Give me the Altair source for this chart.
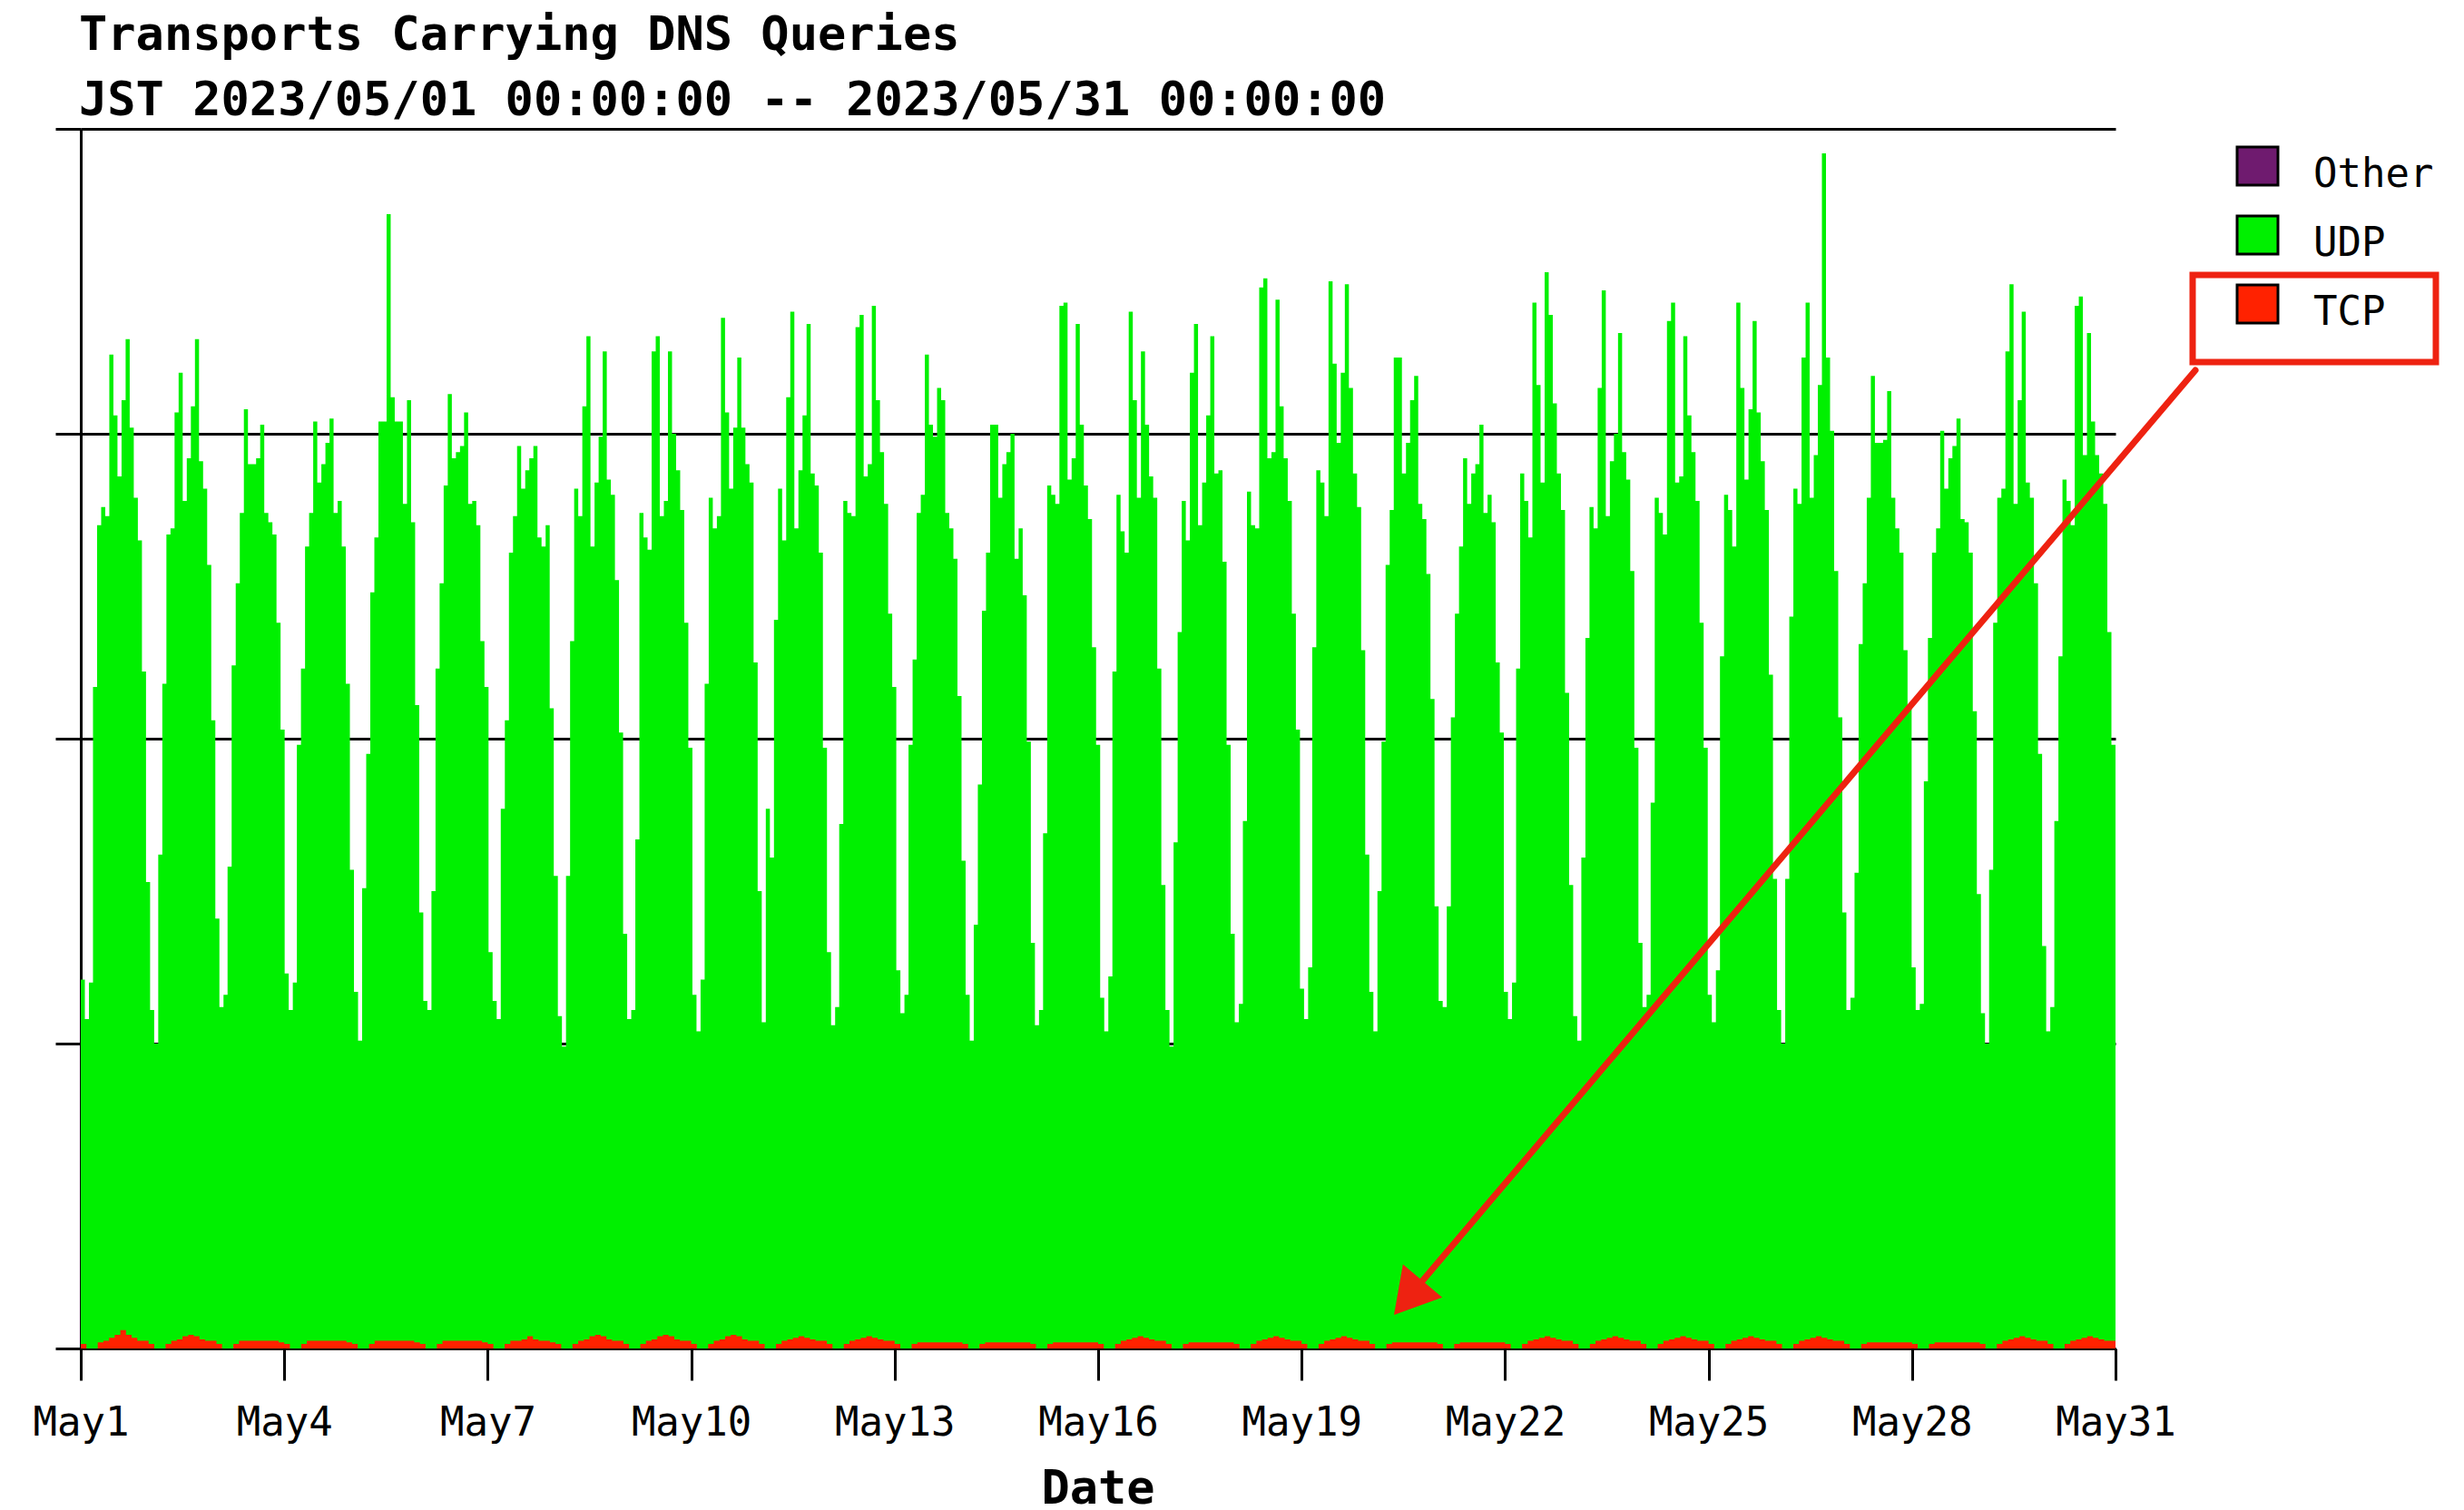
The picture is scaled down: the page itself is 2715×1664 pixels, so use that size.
import altair as alt
import pandas as pd

# ---------------------------------------------------------------------------
# Data.  Heights are in 1/100 of a grid step
# (the four grid steps of the y axis are 0..400).  Each value is one
# plotted column of the original chart (about 1.4 h wide), left to right.
# These are the heights of the top of the green (UDP) stack.
# ---------------------------------------------------------------------------
top_may01_06 = [121, 108, 120, 217, 270, 276, 273, 326, 306, 286, 311, 331, 302, 279, 265, 222,
                153, 111, 100, 162, 218, 267, 269, 307, 320, 278, 292, 309, 331, 291, 282, 257,
                206, 141, 112, 116, 158, 224, 251, 274, 308, 290, 290, 292, 303, 274, 271, 267,
                238, 203, 123, 111, 120, 198, 223, 263, 274, 304, 284, 290, 297, 305, 274, 278,
                263, 218, 157, 117, 101, 151, 195, 248, 266, 304, 304, 372, 312, 304, 304, 277,
                311, 271, 211]
top_may06_11 = [143, 114, 111, 150, 223, 251, 283, 313, 292, 294, 296, 307, 277, 278, 270, 232,
                217, 130, 114, 108, 177, 206, 261, 273, 296, 282, 288, 292, 296, 266, 263, 270,
                210, 155, 109, 99, 155, 232, 282, 273, 309, 332, 263, 284, 299, 327, 285, 280,
                252, 202, 136, 108, 111, 167, 274, 266, 262, 327, 332, 273, 278, 327, 300, 288,
                275, 238, 197, 116, 104, 121, 218, 279, 269, 273, 338, 307, 282, 302, 325, 302,
                290, 284, 225]
top_may11_16 = [150, 107, 177, 161, 239, 282, 265, 312, 340, 269, 288, 306, 336, 287, 283, 261,
                197, 130, 106, 112, 172, 278, 274, 273, 335, 339, 286, 290, 342, 311, 294, 277,
                241, 217, 124, 110, 116, 198, 226, 274, 280, 326, 303, 299, 315, 311, 274, 269,
                259, 214, 160, 116, 101, 139, 185, 242, 261, 303, 303, 279, 290, 294, 300, 259,
                269, 247, 199, 133, 106, 111, 169, 283, 280, 277, 342, 343, 285, 292, 336, 303,
                283, 272, 230, 198]
top_may16_21 = [115, 104, 122, 222, 280, 268, 261, 340, 311, 279, 327, 303, 286, 279, 223, 152,
                111, 99, 166, 235, 278, 265, 320, 336, 270, 284, 306, 332, 287, 288, 258, 198,
                136, 107, 113, 173, 281, 270, 269, 348, 351, 292, 294, 344, 309, 292, 278, 241,
                203, 118, 108, 125, 230, 288, 284, 273, 350, 323, 297, 320, 349, 315, 287, 276,
                229, 162, 117, 104, 150, 199, 257, 275, 325, 325, 287, 297, 311, 319, 277, 272,
                254, 213]
top_may21_26 = [145, 114, 112, 145, 207, 241, 263, 292, 277, 287, 290, 303, 274, 280, 271, 225,
                202, 117, 108, 120, 223, 287, 278, 266, 343, 316, 284, 353, 339, 310, 287, 275,
                215, 152, 109, 101, 161, 233, 276, 269, 315, 347, 273, 291, 300, 333, 294, 285,
                255, 197, 133, 112, 116, 179, 279, 274, 267, 337, 343, 284, 286, 332, 306, 294,
                278, 238, 197, 116, 107, 124, 227, 280, 275, 263, 343, 315, 285, 308, 337, 307,
                291, 275, 221]
top_may26_31 = [154, 111, 100, 154, 240, 282, 277, 325, 343, 279, 293, 316, 392, 325, 301, 255,
                207, 143, 111, 115, 156, 231, 251, 279, 319, 297, 297, 298, 314, 279, 269, 261,
                229, 210, 125, 111, 113, 186, 233, 261, 269, 301, 282, 292, 296, 305, 272, 271,
                261, 209, 149, 110, 100, 157, 238, 279, 282, 327, 349, 277, 311, 340, 284, 279,
                251, 195, 132, 104, 112, 173, 227, 285, 278, 270, 342, 345, 293, 333, 304, 293,
                287, 277, 235, 198]

# TCP: one list per day, 12 two-hour bins (same units)
tcp_days = [
    [1.5, 0, 0, 2.0, 2.5, 3.5, 4.5, 6.0, 4.5, 3.5, 2.5, 2.5],   # May 1
    [1.5, 0, 0, 1.5, 2.5, 3.0, 4.0, 4.5, 4.0, 3.0, 2.5, 2.5],
    [1.5, 0, 0, 1.5, 2.5, 2.5, 2.5, 2.5, 2.5, 2.5, 2.5, 2.0],
    [1.5, 0, 0, 1.5, 2.5, 2.5, 2.5, 2.5, 2.5, 2.5, 2.5, 2.0],
    [1.5, 0, 0, 1.5, 2.5, 2.5, 2.5, 2.5, 2.5, 2.5, 2.5, 2.0],
    [1.5, 0, 0, 1.5, 2.5, 2.5, 2.5, 2.5, 2.5, 2.5, 2.5, 2.0],
    [1.5, 0, 0, 1.5, 2.5, 2.5, 3.0, 4.0, 3.0, 2.5, 2.5, 2.0],
    [1.5, 0, 0, 1.5, 2.5, 3.0, 4.0, 4.5, 4.0, 3.0, 2.5, 2.5],
    [1.5, 0, 0, 1.5, 2.5, 3.0, 4.0, 4.5, 4.0, 3.0, 2.5, 2.5],
    [1.5, 0, 0, 1.5, 2.5, 3.0, 4.0, 4.5, 4.0, 3.0, 2.5, 2.5],   # May 10
    [1.5, 0, 0, 1.5, 2.5, 3.0, 3.5, 4.0, 3.5, 3.0, 2.5, 2.5],
    [1.5, 0, 0, 1.5, 2.5, 3.0, 3.5, 4.0, 3.5, 3.0, 2.5, 2.5],
    [1.5, 0, 0, 1.5, 2.0, 2.0, 2.0, 2.0, 2.0, 2.0, 2.0, 2.0],
    [1.5, 0, 0, 1.5, 2.0, 2.0, 2.0, 2.0, 2.0, 2.0, 2.0, 2.0],
    [1.5, 0, 0, 1.5, 2.0, 2.0, 2.0, 2.0, 2.0, 2.0, 2.0, 2.0],
    [1.5, 0, 0, 1.5, 2.5, 3.0, 3.5, 4.0, 3.5, 3.0, 2.5, 2.5],
    [1.5, 0, 0, 1.5, 2.0, 2.0, 2.0, 2.0, 2.0, 2.0, 2.0, 2.0],
    [1.5, 0, 0, 1.5, 2.5, 3.0, 3.5, 4.0, 3.5, 3.0, 2.5, 2.5],
    [1.5, 0, 0, 1.5, 2.5, 3.0, 3.5, 4.0, 3.5, 3.0, 2.5, 2.5],
    [1.5, 0, 0, 1.5, 2.0, 2.0, 2.0, 2.0, 2.0, 2.0, 2.0, 2.0],   # May 20
    [1.5, 0, 0, 1.5, 2.0, 2.0, 2.0, 2.0, 2.0, 2.0, 2.0, 2.0],
    [1.5, 0, 0, 1.5, 2.5, 3.0, 3.5, 4.0, 3.5, 3.0, 2.5, 2.5],
    [1.5, 0, 0, 1.5, 2.5, 3.0, 3.5, 4.0, 3.5, 3.0, 2.5, 2.5],
    [1.5, 0, 0, 1.5, 2.5, 3.0, 3.5, 4.0, 3.5, 3.0, 2.5, 2.5],
    [1.5, 0, 0, 1.5, 2.5, 3.0, 3.5, 4.0, 3.5, 3.0, 2.5, 2.5],
    [1.5, 0, 0, 1.5, 2.5, 3.0, 3.5, 4.0, 3.5, 3.0, 2.5, 2.5],
    [1.5, 0, 0, 1.5, 2.0, 2.0, 2.0, 2.0, 2.0, 2.0, 2.0, 2.0],
    [1.5, 0, 0, 1.5, 2.0, 2.0, 2.0, 2.0, 2.0, 2.0, 2.0, 2.0],
    [1.5, 0, 0, 1.5, 2.5, 3.0, 3.5, 4.0, 3.5, 3.0, 2.5, 2.5],
    [1.5, 0, 0, 1.5, 2.5, 3.0, 3.5, 4.0, 3.5, 3.0, 2.5, 2.5],   # May 30
]

legend_labels = ["Other", "UDP", "TCP"]
legend_colors = ["#6f1b6f", "#00f000", "#ff2200"]
tick_days = list(range(1, 32, 3))
title_line1 = "Transports Carrying DNS Queries"
title_line2 = "JST 2023/05/01 00:00:00 -- 2023/05/31 00:00:00"
x_title = "Date"

GREEN = "#00f000"
RED = "#ff2200"
ANNOT = "#ee2211"
FONT = "DejaVu Sans Mono"

# ---------------------------------------------------------------------------
DAY = 86400000
start_ms = int(pd.Timestamp("2023-05-01T00:00:00Z").value // 1_000_000)
end_ms = start_ms + 30 * DAY

tops = top_may01_06 + top_may06_11 + top_may11_16 + top_may16_21 + top_may21_26 + top_may26_31
n = len(tops)
step = (end_ms - start_ms) / n
green_df = pd.DataFrame({
    "t": [start_ms + i * step for i in range(n)] + [end_ms],
    "v": tops + [tops[-1]],
})

tcp_t, tcp_v = [], []
for d, day in enumerate(tcp_days):
    for k, val in enumerate(day):
        tcp_t.append(start_ms + d * DAY + k * 2 * 3600000)
        tcp_v.append(val)
tcp_t.append(end_ms)
tcp_v.append(tcp_days[-1][-1])
red_df = pd.DataFrame({"t": tcp_t, "v": tcp_v})

W, H = 2242, 1344

x_enc = alt.X(
    "t:T",
    scale=alt.Scale(type="utc", domain=[start_ms, end_ms], nice=False),
    axis=alt.Axis(
        values=[start_ms + (d - 1) * DAY for d in tick_days],
        labelExpr="utcFormat(datum.value, '%b%-d')",
        grid=False,
        domain=True, domainColor="black", domainWidth=3,
        ticks=True, tickColor="black", tickWidth=3, tickSize=35,
        labelFont=FONT, labelFontSize=44, labelColor="black",
        labelPadding=47, labelBaseline="middle", labelFlush=False,
        labelOverlap=False, title=None,
    ),
)
y_enc = alt.Y(
    "v:Q",
    scale=alt.Scale(domain=[0, 400], nice=False, zero=True),
    axis=alt.Axis(
        values=[0, 100, 200, 300, 400], labels=False, title=None,
        grid=True, gridColor="black", gridWidth=3, gridOpacity=1,
        domain=True, domainColor="black", domainWidth=3,
        ticks=True, tickColor="black", tickWidth=3, tickSize=28,
    ),
)

green = alt.Chart(green_df).mark_area(
    interpolate="step-after", color=GREEN, opacity=1, clip=True
).encode(x=x_enc, y=y_enc)

red = alt.Chart(red_df).mark_area(
    interpolate="step-after", color=RED, opacity=1, clip=True
).encode(x=alt.X("t:T"), y=alt.Y("v:Q"))

one = pd.DataFrame({"a": [0]})


def text_layer(txt, x, y, size, weight="normal", align="left"):
    return alt.Chart(one).mark_text(
        font=FONT, fontSize=size, fontWeight=weight, align=align,
        baseline="middle", color="black"
    ).encode(x=alt.value(x), y=alt.value(y), text=alt.value(txt))


layers = [green, red,
          text_layer(title_line1, -2, -103, 52, "bold"),
          text_layer(title_line2, -2, -31, 52, "bold"),
          text_layer(x_title, 1121, 1499, 52, "bold", "center")]

# legend
for i, (lab, col) in enumerate(zip(legend_labels, legend_colors)):
    cy = 41 + 76 * i
    layers.append(
        alt.Chart(one).mark_rect(fill=col, stroke="black", strokeWidth=3).encode(
            x=alt.value(2376), x2=alt.value(2421),
            y=alt.value(cy - 21), y2=alt.value(cy + 21))
    )
    layers.append(text_layer(lab, 2460, cy + 10, 44))

# annotation: box around TCP legend entry and arrow
layers.append(
    alt.Chart(one).mark_rect(fill="transparent", stroke=ANNOT, strokeWidth=7).encode(
        x=alt.value(2327), x2=alt.value(2595), y=alt.value(161), y2=alt.value(257))
)
layers.append(
    alt.Chart(one).mark_rule(color=ANNOT, strokeWidth=7, strokeCap="round").encode(
        x=alt.value(2330), y=alt.value(266), x2=alt.value(1466), y2=alt.value(1284))
)
layers.append(
    alt.Chart(one).mark_point(shape="triangle", filled=True, color=ANNOT, opacity=1,
                              size=3200, angle=220).encode(
        x=alt.value(1468), y=alt.value(1282))
)

chart = alt.layer(*layers).properties(
    width=W, height=H,
    autosize=alt.AutoSizeParams(type="none"),
    padding={"left": 81, "top": 134, "right": 376, "bottom": 176},
    background="white",
).configure_view(strokeWidth=0)

chart.save("out.html", embed_options={"renderer": "svg", "actions": False})
